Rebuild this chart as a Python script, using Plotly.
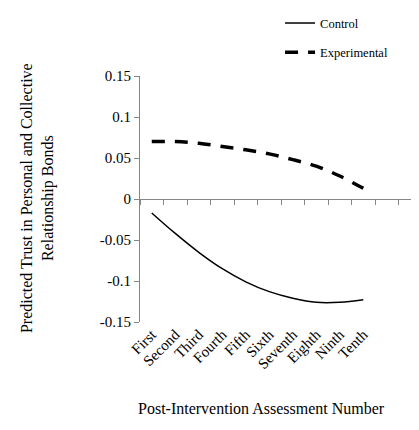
import plotly.graph_objects as go

categories = ["First", "Second", "Third", "Fourth", "Fifth",
              "Sixth", "Seventh", "Eighth", "Ninth", "Tenth"]
control = [-0.017, -0.042, -0.065, -0.085, -0.101,
           -0.113, -0.121, -0.126, -0.126, -0.123]
experimental = [0.070, 0.070, 0.068, 0.064, 0.060,
                0.055, 0.048, 0.040, 0.028, 0.013]
y_tick_vals = [-0.15, -0.1, -0.05, 0, 0.05, 0.1, 0.15]
y_tick_text = ["-0.15", "-0.1", "-0.05", "0", "0.05", "0.1", "0.15"]

FONT = "Liberation Serif"
GRAY = "#868686"
idx = list(range(len(categories)))
x_range = [-0.5, 11.37]

fig = go.Figure()
fig.add_trace(go.Scatter(
    x=idx, y=control, name="Control", mode="lines",
    line=dict(color="black", width=1.5, shape="spline"),
    legendgroup="a"))
fig.add_trace(go.Scatter(
    x=idx, y=experimental, name="Experimental", mode="lines",
    line=dict(color="black", width=3.5, shape="spline", dash="13px,10px"),
    legendgroup="b"))
# carrier for the axis line drawn through zero
fig.add_trace(go.Scatter(x=[0], y=[None], xaxis="x2", showlegend=False,
                         hoverinfo="skip", mode="lines"))

fig.update_layout(
    width=411, height=422,
    margin=dict(l=132, r=0, t=68, b=108),
    paper_bgcolor="white", plot_bgcolor="white",
    font=dict(family=FONT, color="black"),
    showlegend=True,
    legend=dict(x=0.502, y=1.275, xanchor="left", yanchor="top",
                traceorder="grouped", tracegroupgap=10,
                font=dict(family=FONT, size=12.5, color="black"),
                bgcolor="rgba(0,0,0,0)"),
    xaxis=dict(range=x_range, tickmode="array", tickvals=idx,
               ticktext=categories, tickangle=-45,
               ticks="",
               showline=False, showgrid=False, zeroline=False,
               tickfont=dict(family=FONT, size=15, color="black")),
    xaxis2=dict(range=x_range, overlaying="x", anchor="free", position=0.5,
                tickmode="linear", tick0=-0.5, dtick=1,
                ticks="outside", ticklen=5, tickcolor=GRAY,
                showline=True, linecolor=GRAY, linewidth=1,
                showticklabels=False, showgrid=False, zeroline=False),
    yaxis=dict(range=[-0.15, 0.15], tickmode="array",
               tickvals=y_tick_vals, ticktext=y_tick_text,
               ticks="outside", ticklen=5, tickcolor=GRAY,
               showline=True, linecolor=GRAY, linewidth=1,
               showgrid=False, zeroline=False,
               tickfont=dict(family=FONT, size=15, color="black")),
    annotations=[
        dict(text="Predicted Trust in Personal and Collective<br>Relationship Bonds",
             textangle=-90, x=-0.369, y=0.504, xref="paper", yref="paper",
             xanchor="center", yanchor="middle", showarrow=False,
             font=dict(family=FONT, size=16, color="black")),
        dict(text="Post-Intervention Assessment Number",
             x=0.437, y=-0.35, xref="paper", yref="paper",
             xanchor="center", yanchor="middle", showarrow=False,
             font=dict(family=FONT, size=16, color="black")),
    ],
)

fig.write_html("out.html")
